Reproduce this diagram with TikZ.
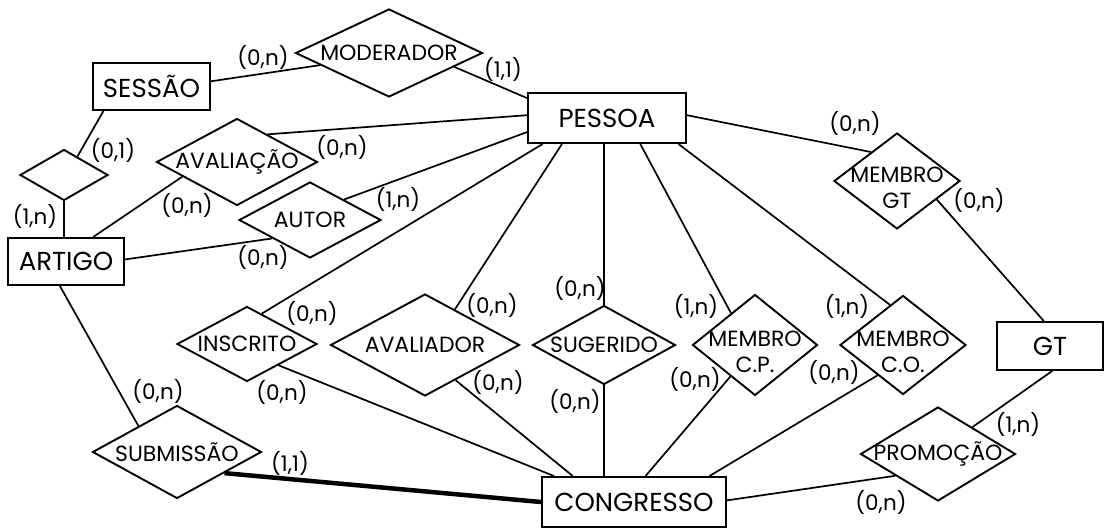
\documentclass[tikz,border=0pt]{standalone}
\usepackage{fontspec}
\setmainfont{Poppins}
\usepackage{tikz}
\usetikzlibrary{shapes.geometric}
\newcommand{\rname}[1]{\makebox[0pt]{#1}}
\newcommand{\rstack}[1]{\raisebox{-14pt}[0pt][0pt]{\makebox[0pt]{\begin{tabular}{@{}c@{}}#1\end{tabular}}}}
\tikzset{
  ent/.style 2 args={draw, rectangle, line width=2pt, inner sep=0pt, minimum width=#1, minimum height=#2, font=\fontsize{26}{31}\selectfont},
  rel/.style 2 args={draw, diamond, line width=1.9pt, inner sep=0pt, aspect=1, minimum width=#1, minimum height=#2, font=\fontsize{22}{26}\selectfont},
  card/.style={inner sep=0pt, font=\fontsize{21.5}{25}\selectfont},
  link/.style={line width=1.7pt},
  total/.style={line width=4.5pt},
}
\begin{document}
\begin{tikzpicture}[x=1pt, y=-1pt]
\useasboundingbox (0,0) rectangle (1104,529);
% entities
\node[ent={117pt}{47pt}] (ses) at (151.5,86.5) {SESSÃO};
\node[ent={158pt}{50pt}] (pes) at (607,118) {PESSOA};
\node[ent={116pt}{47pt}] (art) at (66,261.5) {ARTIGO};
\node[ent={184pt}{50pt}] (con) at (634,502) {CONGRESSO};
\node[ent={106pt}{48pt}] (gt) at (1050,346) {GT};
% relationships
\node[rel={187pt}{88pt}] (mod) at (389,53) {\rname{MODERADOR}};
\node[rel={88pt}{51pt}] (sar) at (64,175) {};
\node[rel={161pt}{87pt}] (ava) at (237,162) {\rname{AVALIAÇÃO}};
\node[rel={142pt}{76pt}] (aut) at (310,220) {\rname{AUTOR}};
\node[rel={140pt}{75pt}] (ins) at (247,344) {\rname{INSCRITO}};
\node[rel={189pt}{102pt}] (avd) at (425,345) {\rname{AVALIADOR}};
\node[rel={143pt}{79pt}] (sug) at (604,345) {\rname{SUGERIDO}};
\node[rel={125pt}{101pt}] (mcp) at (755,345) {\rstack{MEMBRO\\C.P.}};
\node[rel={126pt}{99pt}] (mco) at (903,345) {\rstack{MEMBRO\\C.O.}};
\node[rel={126pt}{96pt}] (mgt) at (897,181) {\rstack{MEMBRO\\GT}};
\node[rel={155pt}{94pt}] (pro) at (938,454) {\rname{PROMOÇÃO}};
\node[rel={169pt}{93pt}] (sub) at (177,452) {\rname{SUBMISSÃO}};
% links
\draw[link] (ses.5) -- (mod.190);
\draw[link] (mod.-12) -- (pes.166);
\draw[link] (sar.54) -- (ses.207);
\draw[link] (sar.south) -- (sar.south |- art.north);
\draw[link] (ava.42) -- (pes.178);
\draw[link] (ava.195) -- (art.42);
\draw[link] (aut.206) -- (art.2);
\draw[link] (aut.31) -- (pes.190);
\draw[link] (ins.64) -- (pes.202);
\draw[link] (ins.-34) -- (con.162);
\draw[link] (avd.50) -- (pes.210);
\draw[link] (avd.-49) -- (con.157);
\draw[link] (sug.north) -- (sug.north |- pes.south);
\draw[link] (sug.south) -- (sug.south |- con.north);
\draw[link] (mcp.127) -- (pes.-38);
\draw[link] (mcp.232) -- (con.66);
\draw[link] (mco.108) -- (pes.-20);
\draw[link] (mco.230) -- (con.19);
\draw[link] (mgt.132) -- (pes.2);
\draw[link] (mgt.-25) -- (gt.104);
\draw[link] (pro.38) -- (gt.-85);
\draw[link] (pro.207) -- (con.1);
\draw[link] (sub.146) -- (art.256);
\draw[total] (sub.-24) -- (con.180);
% cardinalities
\node[card] (k1) at (263,57) {(0,n)};
\node[card] (k2) at (503,69) {(1,1)};
\node[card] (k3) at (113,150) {(0,1)};
\node[card] (k4) at (35,216) {(1,n)};
\node[card] (k5) at (342,147) {(0,n)};
\node[card] (k6) at (187,205) {(0,n)};
\node[card] (k7) at (398,199) {(1,n)};
\node[card] (k8) at (263,257) {(0,n)};
\node[card] (k9) at (312,313) {(0,n)};
\node[card] (k10) at (282,392) {(0,n)};
\node[card] (k11) at (492,305) {(0,n)};
\node[card] (k12) at (498,382) {(0,n)};
\node[card] (k13) at (580,288) {(0,n)};
\node[card] (k14) at (575,401) {(0,n)};
\node[card] (k15) at (696,306) {(1,n)};
\node[card] (k16) at (695,379) {(0,n)};
\node[card] (k17) at (847,306) {(1,n)};
\node[card] (k18) at (834,372) {(0,n)};
\node[card] (k19) at (855,123) {(0,n)};
\node[card] (k20) at (979,200) {(0,n)};
\node[card] (k21) at (1018,424) {(1,n)};
\node[card] (k22) at (881,502) {(0,n)};
\node[card] (k23) at (158,391) {(0,n)};
\node[card] (k24) at (290,463) {(1,1)};
\end{tikzpicture}
\end{document}
